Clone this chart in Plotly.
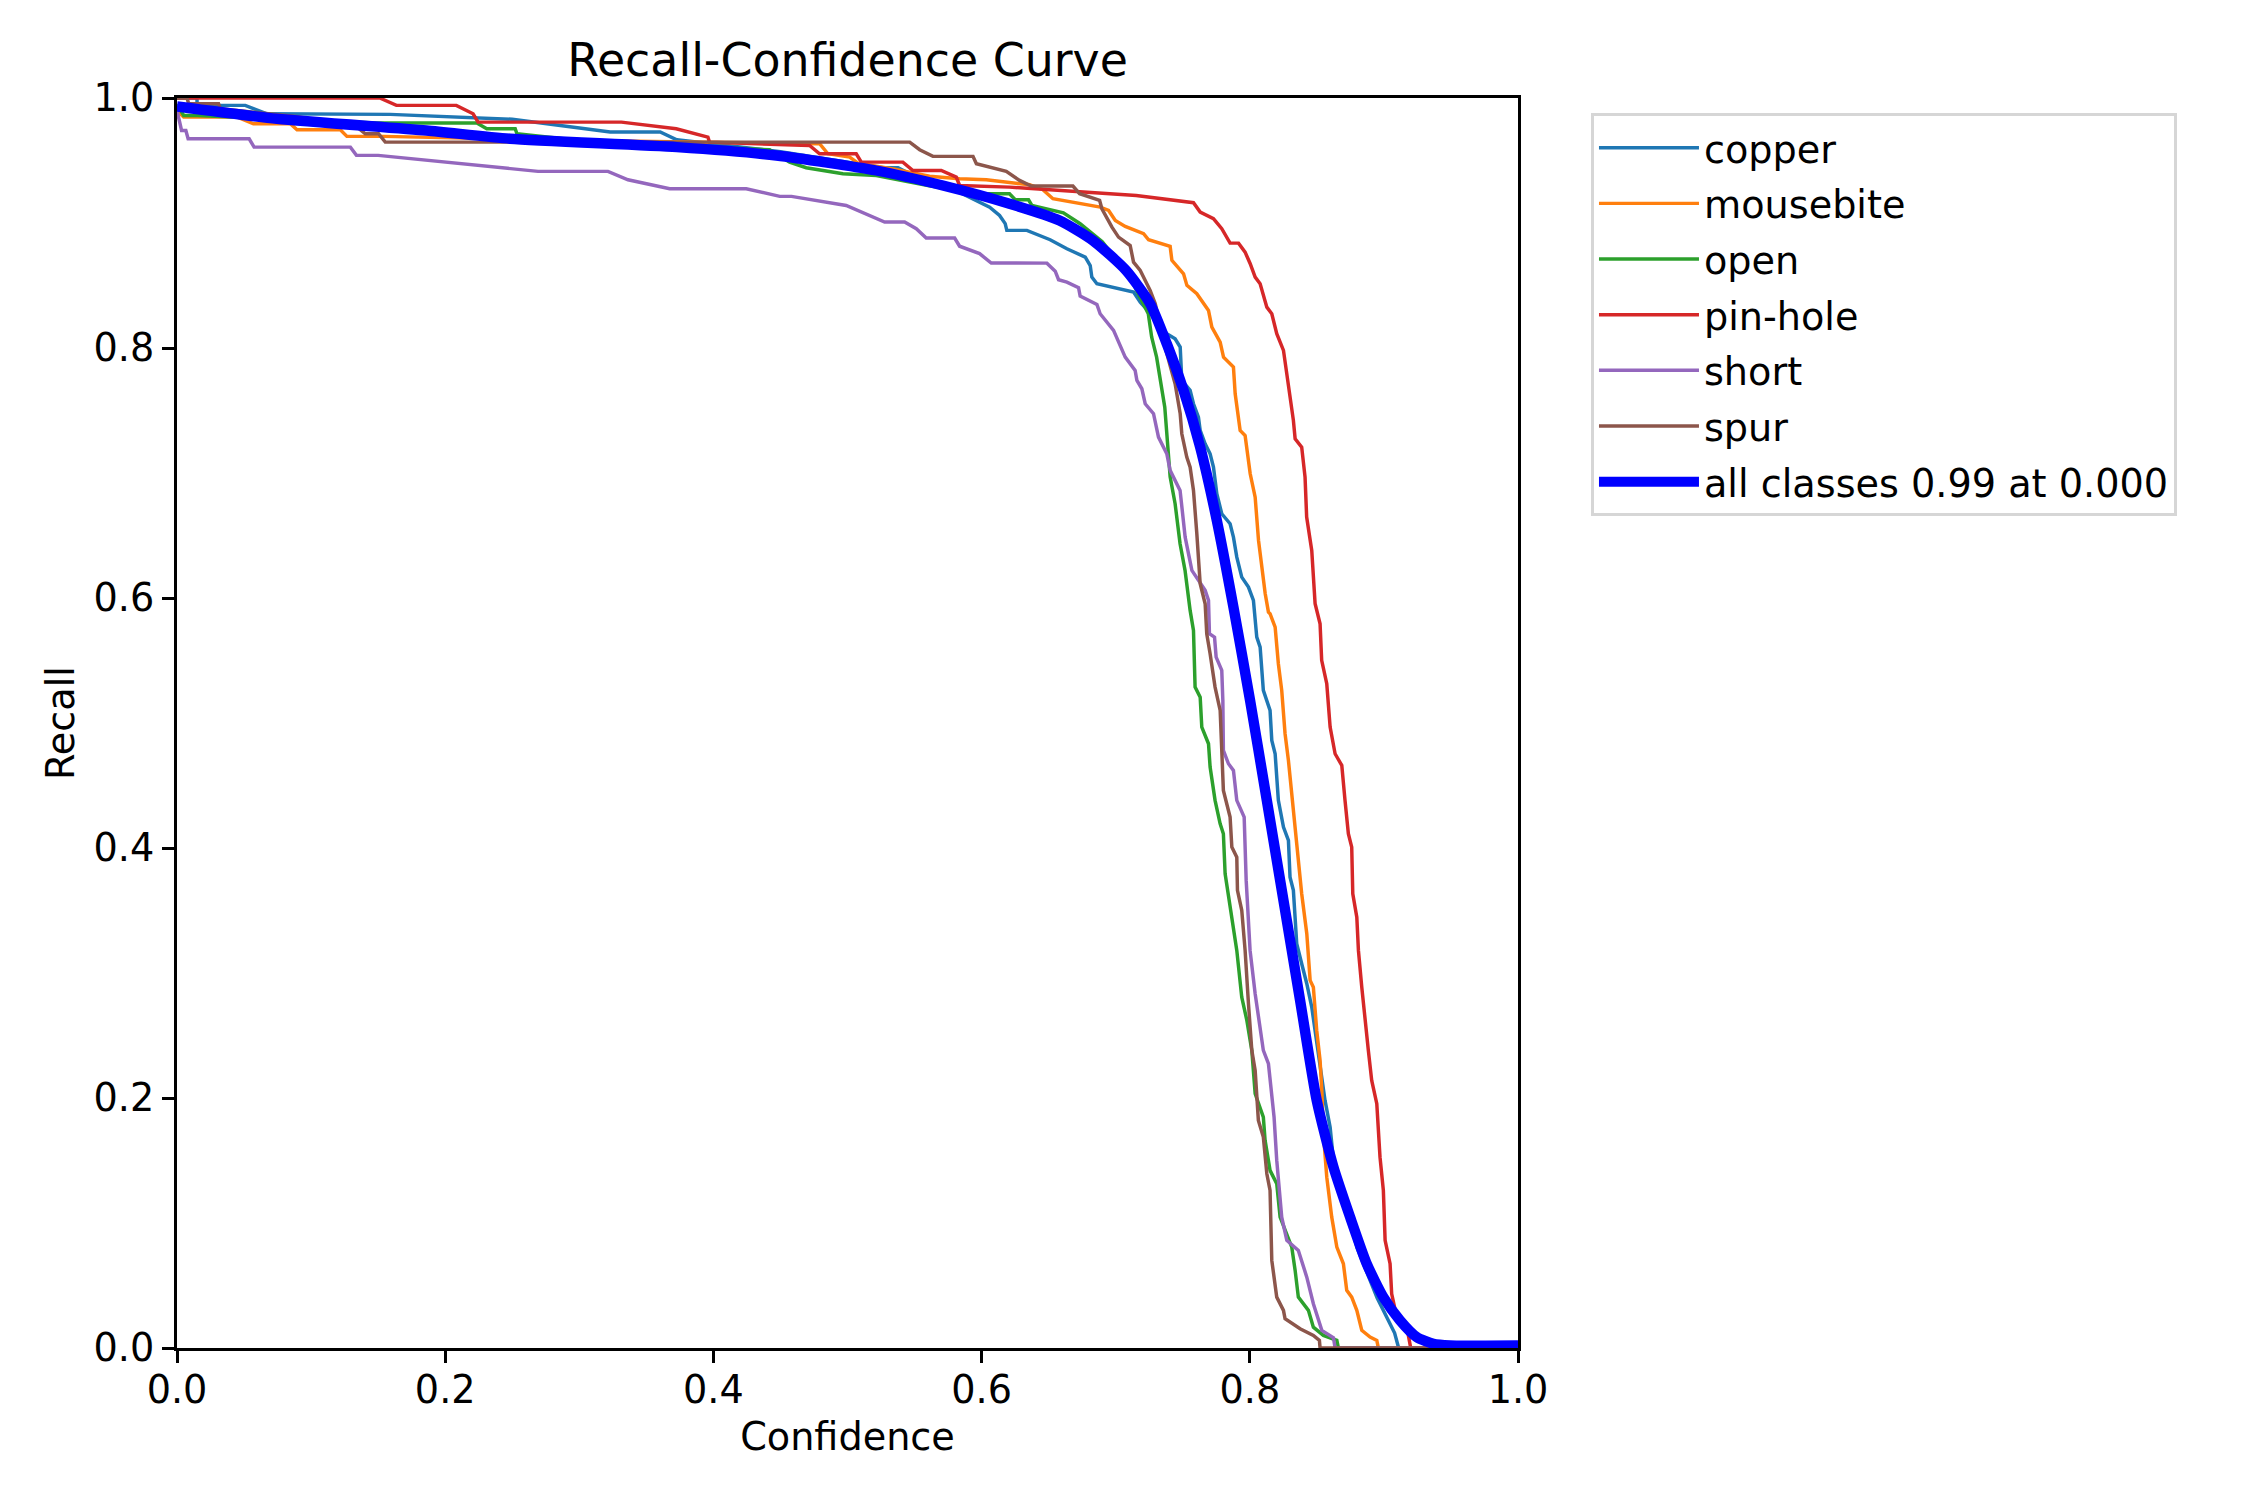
import plotly.graph_objects as go

# ---------------- data ----------------
class_names = ["copper", "mousebite", "open", "pin-hole", "short", "spur"]
class_colors = ["#1f77b4", "#ff7f0e", "#2ca02c", "#d62728", "#9467bd", "#8c564b"]

copper_x = [0, 0.0149, 0.015, 0.0509, 0.0671, 0.159, 0.25, 0.323, 0.3603, 0.3727, 0.45, 0.5265, 0.5377,
            0.5464, 0.575, 0.5985, 0.606, 0.6134, 0.6176, 0.6188, 0.6338, 0.6511, 0.6636, 0.6773, 0.681,
            0.6822, 0.686, 0.7133, 0.7183, 0.73, 0.7381, 0.7443, 0.7481, 0.7493, 0.7555, 0.758, 0.7617,
            0.763, 0.7667, 0.7704, 0.7729, 0.7754, 0.7791, 0.7853, 0.7878, 0.7903, 0.794, 0.799, 0.8027,
            0.8052, 0.8077, 0.8101, 0.8151, 0.8164, 0.8189, 0.8213, 0.8251, 0.8288, 0.83, 0.8325, 0.835,
            0.8387, 0.8425, 0.8462, 0.8499, 0.8512, 0.8561, 0.8599, 0.8624, 0.87, 0.88, 0.895, 0.908,
            0.911, 1.0]
copper_y = [1.0, 1.0, 0.9941, 0.9941, 0.9874, 0.9869, 0.983, 0.9728, 0.9728, 0.9666, 0.957, 0.9442, 0.9442,
            0.9394, 0.929, 0.9167, 0.9127, 0.906, 0.8995, 0.8941, 0.8941, 0.8866, 0.8794, 0.8727, 0.866,
            0.8567, 0.8514, 0.8447, 0.8367, 0.823, 0.8114, 0.8074, 0.8007, 0.7741, 0.7661, 0.7554, 0.7447,
            0.7341, 0.7234, 0.7154, 0.7048, 0.6834, 0.6674, 0.6594, 0.6487, 0.6327, 0.6167, 0.6087, 0.5981,
            0.5687, 0.5607, 0.5261, 0.5101, 0.4861, 0.4754, 0.4381, 0.4167, 0.4061, 0.3767, 0.3661, 0.3234,
            0.3074, 0.2914, 0.2727, 0.2434, 0.2381, 0.1981, 0.1767, 0.1501, 0.12, 0.08, 0.04, 0.012,
            0.0, 0.0]

mousebite_x = [0, 0.005, 0.045, 0.057, 0.0845, 0.0895, 0.1218, 0.1267, 0.154, 0.3, 0.4792, 0.4854, 0.5016,
               0.5078, 0.535, 0.5612, 0.5836, 0.6035, 0.6358, 0.6457, 0.6532, 0.6885, 0.6947, 0.6997,
               0.7071, 0.7208, 0.7245, 0.7406, 0.7419, 0.7506, 0.7531, 0.7605, 0.7692, 0.7717, 0.7779,
               0.7804, 0.7878, 0.7891, 0.7928, 0.7965, 0.8003, 0.804, 0.8065, 0.809, 0.8115, 0.8139, 0.8151,
               0.8189, 0.8213, 0.8238, 0.8263, 0.8288, 0.8313, 0.8338, 0.8362, 0.8387, 0.8425, 0.845,
               0.8474, 0.8499, 0.8524, 0.8537, 0.8549, 0.8574, 0.8611, 0.8649, 0.8698, 0.8723, 0.876,
               0.8798, 0.8835, 0.8897, 0.8947, 0.8959, 1.0]
mousebite_y = [0.99, 0.9847, 0.9847, 0.9794, 0.9794, 0.9746, 0.9746, 0.9693, 0.9693, 0.966, 0.9634, 0.9554,
               0.9527, 0.9479, 0.943, 0.9374, 0.9354, 0.9346, 0.9306, 0.9266, 0.9194, 0.9127, 0.91, 0.902,
               0.8973, 0.8914, 0.8866, 0.8813, 0.8701, 0.8594, 0.8501, 0.8434, 0.8301, 0.8167, 0.8047,
               0.7927, 0.7847, 0.7634, 0.7341, 0.73, 0.6994, 0.6807, 0.6461, 0.6221, 0.6034, 0.5887, 0.5874,
               0.5767, 0.5474, 0.5261, 0.4914, 0.4701, 0.4434, 0.4141, 0.3927, 0.3634, 0.3314, 0.2941,
               0.2887, 0.2541, 0.2301, 0.2061, 0.1714, 0.1367, 0.1047, 0.0807, 0.0674, 0.0461, 0.0407,
               0.0301, 0.0141, 0.0087, 0.0061, 0.0, 0.0]

open_x = [0, 0.005, 0.015, 0.1, 0.149, 0.2236, 0.231, 0.2522, 0.2535, 0.3, 0.4419, 0.4568, 0.4692, 0.4966,
          0.5215, 0.56, 0.5959, 0.6208, 0.6251, 0.635, 0.6375, 0.661, 0.6735, 0.69, 0.71, 0.7243, 0.7268,
          0.7305, 0.733, 0.7366, 0.7406, 0.7443, 0.748, 0.7517, 0.7555, 0.758, 0.7592, 0.763, 0.7642,
          0.7692, 0.7704, 0.7741, 0.7779, 0.7803, 0.7816, 0.7853, 0.7903, 0.794, 0.7978, 0.8015, 0.804,
          0.8101, 0.8114, 0.8151, 0.8201, 0.8226, 0.8313, 0.8338, 0.8362, 0.8437, 0.8474, 0.8549, 0.8649,
          0.8661, 1.0]
open_y = [0.995, 0.986, 0.986, 0.982, 0.98, 0.98, 0.9754, 0.9754, 0.9714, 0.966, 0.9586, 0.9487, 0.9442,
          0.9394, 0.938, 0.93, 0.9234, 0.9234, 0.9186, 0.9186, 0.9141, 0.9082, 0.8994, 0.885, 0.858, 0.8274,
          0.8088, 0.7927, 0.7767, 0.7527, 0.6969, 0.6754, 0.6434, 0.6221, 0.5901, 0.5741, 0.5287, 0.5207,
          0.4967, 0.4834, 0.4647, 0.4381, 0.4194, 0.4114, 0.3794, 0.3527, 0.3181, 0.2807, 0.2621, 0.2381,
          0.2034, 0.1847, 0.1661, 0.1421, 0.1314, 0.1047, 0.0807, 0.0621, 0.0407, 0.0301, 0.0167, 0.0101,
          0.0061, 0.0, 0.0]

pinhole_x = [0, 0.1512, 0.1636, 0.2083, 0.2208, 0.2245, 0.3314, 0.3723, 0.3959, 0.3971, 0.4717, 0.4792,
             0.5065, 0.5103, 0.5413, 0.5488, 0.5699, 0.5811, 0.5836, 0.6208, 0.7153, 0.745, 0.758, 0.763,
             0.7729, 0.7791, 0.7853, 0.7916, 0.7965, 0.8003, 0.804, 0.8077, 0.8127, 0.8164, 0.8201, 0.8251,
             0.8288, 0.8325, 0.8338, 0.8387, 0.8412, 0.8424, 0.8462, 0.8487, 0.8524, 0.8536, 0.8574, 0.8599,
             0.8636, 0.8686, 0.871, 0.8735, 0.876, 0.8768, 0.8798, 0.881, 0.8835, 0.886, 0.8884, 0.8909,
             0.8947, 0.8971, 0.8996, 0.9009, 0.9046, 0.9058, 0.9096, 0.9171, 0.9195, 0.92, 1.0]
pinhole_y = [1.0, 1.0, 0.9941, 0.9941, 0.9874, 0.9807, 0.9807, 0.9754, 0.9687, 0.9647, 0.962, 0.9554,
             0.9554, 0.9487, 0.9487, 0.942, 0.942, 0.9367, 0.93, 0.9287, 0.922, 0.918, 0.9162, 0.9087,
             0.9034, 0.8954, 0.8839, 0.8839, 0.8767, 0.8674, 0.8567, 0.8514, 0.8327, 0.8274, 0.8114, 0.7981,
             0.7714, 0.7421, 0.7274, 0.7207, 0.6967, 0.6647, 0.6381, 0.5954, 0.5794, 0.5501, 0.5314, 0.4967,
             0.4754, 0.4661, 0.4381, 0.4114, 0.4007, 0.3634, 0.3447, 0.3181, 0.2887, 0.2594, 0.2381, 0.2141,
             0.1954, 0.1527, 0.1261, 0.0861, 0.0674, 0.0434, 0.0247, 0.0167, 0.0034, 0.0, 0.0]

short_x = [0, 0.0016, 0.0034, 0.0066, 0.0083, 0.0538, 0.0575, 0.1293, 0.1338, 0.15, 0.2059, 0.2692, 0.3214,
           0.3363, 0.3674, 0.4245, 0.4495, 0.4582, 0.499, 0.514, 0.5277, 0.5426, 0.5513, 0.5587, 0.5799,
           0.5836, 0.5985, 0.6072, 0.6487, 0.6549, 0.6574, 0.6636, 0.6723, 0.6735, 0.686, 0.6884, 0.6984,
           0.7071, 0.7145, 0.7158, 0.7195, 0.722, 0.7282, 0.7319, 0.7381, 0.7406, 0.748, 0.7518, 0.7568,
           0.7667, 0.7692, 0.7699, 0.7737, 0.7749, 0.7791, 0.7799, 0.7803, 0.7841, 0.7878, 0.7903, 0.7958,
           0.7973, 0.8002, 0.804, 0.8077, 0.8101, 0.8139, 0.8151, 0.8181, 0.8201, 0.8238, 0.8276, 0.8362,
           0.8425, 0.8474, 0.8537, 0.8624, 0.8636, 1.0]
short_y = [0.99, 0.983, 0.974, 0.974, 0.9674, 0.9674, 0.9607, 0.9607, 0.9541, 0.9541, 0.948, 0.9413, 0.9413,
           0.9346, 0.9274, 0.9274, 0.9213, 0.9213, 0.914, 0.9074, 0.9008, 0.9008, 0.8954, 0.888, 0.888,
           0.8814, 0.8755, 0.868, 0.8679, 0.8615, 0.8546, 0.8527, 0.8482, 0.8415, 0.8349, 0.8274, 0.8141,
           0.7927, 0.7821, 0.7741, 0.7674, 0.7554, 0.7474, 0.7287, 0.7154, 0.7021, 0.6861, 0.6487, 0.6221,
           0.6061, 0.5981, 0.5714, 0.5687, 0.5527, 0.5421, 0.5181, 0.4781, 0.4674, 0.4621, 0.4381, 0.4247,
           0.3741, 0.3181, 0.2834, 0.2541, 0.2381, 0.2274, 0.2167, 0.1847, 0.1501, 0.1047, 0.0861, 0.0781,
           0.0567, 0.0354, 0.0141, 0.0082, 0.0, 0.0]

spur_x = [0, 0.0075, 0.0087, 0.031, 0.0323, 0.09, 0.135, 0.1404, 0.1503, 0.1553, 0.5464, 0.5538, 0.5637,
          0.5936, 0.5961, 0.6184, 0.6283, 0.637, 0.6681, 0.6731, 0.688, 0.6897, 0.6972, 0.7021, 0.7108,
          0.7133, 0.7183, 0.7257, 0.7295, 0.737, 0.7443, 0.7481, 0.7493, 0.753, 0.7555, 0.758, 0.7605,
          0.763, 0.7667, 0.7679, 0.7704, 0.7741, 0.7779, 0.7791, 0.7803, 0.7853, 0.7866, 0.7903, 0.7908,
          0.794, 0.7965, 0.799, 0.8015, 0.804, 0.8064, 0.8101, 0.8127, 0.8151, 0.8164, 0.8201, 0.8251,
          0.8263, 0.8375, 0.8474, 0.8519, 0.8524, 1.0]
spur_y = [1.0, 1.0, 0.9954, 0.9954, 0.9914, 0.985, 0.976, 0.9714, 0.9714, 0.9647, 0.9647, 0.9586, 0.9533,
          0.9533, 0.9474, 0.9413, 0.9341, 0.9296, 0.9296, 0.9234, 0.9181, 0.9114, 0.8967, 0.8887, 0.882,
          0.8687, 0.862, 0.8461, 0.8354, 0.80, 0.7714, 0.7474, 0.7314, 0.7127, 0.7047, 0.6861, 0.6514,
          0.6114, 0.5954, 0.5714, 0.5554, 0.5287, 0.5101, 0.4754, 0.4461, 0.4247, 0.4007, 0.3927, 0.3661,
          0.3501, 0.3181, 0.2754, 0.2381, 0.2221, 0.1821, 0.1687, 0.1394, 0.1261, 0.0701, 0.0407, 0.0301,
          0.0234, 0.0154, 0.0101, 0.0061, 0.0, 0.0]

all_label = "all classes 0.99 at 0.000"
all_x = [0, 0.0745, 0.186, 0.2484, 0.3727, 0.447, 0.5214, 0.5711, 0.6208, 0.6581, 0.683, 0.7078, 0.7257,
         0.7381, 0.7506, 0.763, 0.7754, 0.7878, 0.8002, 0.8127, 0.8251, 0.8375, 0.8499, 0.8624, 0.8748,
         0.8872, 0.8996, 0.912, 0.9245, 0.9369, 0.9493, 1.0]
all_y = [0.9933, 0.9834, 0.974, 0.9674, 0.9607, 0.954, 0.942, 0.93, 0.9154, 0.902, 0.886, 0.862, 0.8354,
         0.8034, 0.7661, 0.7207, 0.6621, 0.5927, 0.5181, 0.4381, 0.3581, 0.2781, 0.1981, 0.1447, 0.1047,
         0.0674, 0.0407, 0.0221, 0.0087, 0.0034, 0.0021, 0.002]

x_ticks = [0.0, 0.2, 0.4, 0.6, 0.8, 1.0]
y_ticks = [0.0, 0.2, 0.4, 0.6, 0.8, 1.0]

series_x = [copper_x, mousebite_x, open_x, pinhole_x, short_x, spur_x]
series_y = [copper_y, mousebite_y, open_y, pinhole_y, short_y, spur_y]

# ---------------- figure ----------------
FONT = "DejaVu Sans"
PT = 250 / 72.0          # matplotlib points -> pixels at dpi 250
FS = 11 * PT             # base font size (11 pt)
TITLE_FS = 1.2 * FS      # 'large'

# the page body has an 8px margin; compensate so the axes land where they should
OFF = 8
L, T = 176.5 - OFF, 97.6 - OFF
PW, PH = 1341.5, 1250.0
R = 2250 - L - PW
B = 1500 - T - PH

fig = go.Figure()
for i, name in enumerate(class_names):
    fig.add_trace(go.Scatter(
        x=series_x[i], y=series_y[i], mode="lines", name=name,
        line=dict(color=class_colors[i], width=1 * PT),
        legendgroup=name, showlegend=True,
    ))
fig.add_trace(go.Scatter(
    x=all_x, y=all_y, mode="lines", name=all_label,
    line=dict(color="blue", width=3 * PT, shape="spline", smoothing=0.6),
    legendgroup="all", showlegend=True,
))

axis_common = dict(
    range=[0, 1], showgrid=False, zeroline=False,
    showline=True, mirror=True, linecolor="black", linewidth=0.8 * PT,
    ticks="outside", ticklen=3.5 * PT, tickwidth=0.8 * PT, tickcolor="black",
    tickformat=".1f", tickfont=dict(family=FONT, size=FS, color="black"),
)

fig.update_layout(
    width=2250, height=1500,
    paper_bgcolor="white", plot_bgcolor="white",
    margin=dict(l=L, r=R, t=T, b=B, autoexpand=False),
    font=dict(family=FONT, size=FS, color="black"),
    title=dict(text="Recall-Confidence Curve", x=0.5, xref="paper", xanchor="center",
               y=1 - (60 - OFF) / 1500, yref="container", yanchor="middle",
               font=dict(family=FONT, size=TITLE_FS, color="black")),
    xaxis=dict(axis_common, tickvals=x_ticks, ticklabelstandoff=-6,
               title=dict(text="Confidence", standoff=13,
                          font=dict(family=FONT, size=FS, color="black"))),
    yaxis=dict(axis_common, tickvals=y_ticks,
               title=dict(text="Recall", standoff=8,
                          font=dict(family=FONT, size=FS, color="black"))),
    legend=dict(
        x=(1591 - 176.5) / PW, y=1 + (97.6 - 113) / PH, xanchor="left", yanchor="top",
        xref="paper", yref="paper",
        bgcolor="rgba(255,255,255,0.8)", bordercolor="#d6d6d6", borderwidth=3,
        font=dict(family=FONT, size=FS, color="black"),
        tracegroupgap=3, itemwidth=100, traceorder="grouped",
    ),
)

fig.write_html("out.html")
